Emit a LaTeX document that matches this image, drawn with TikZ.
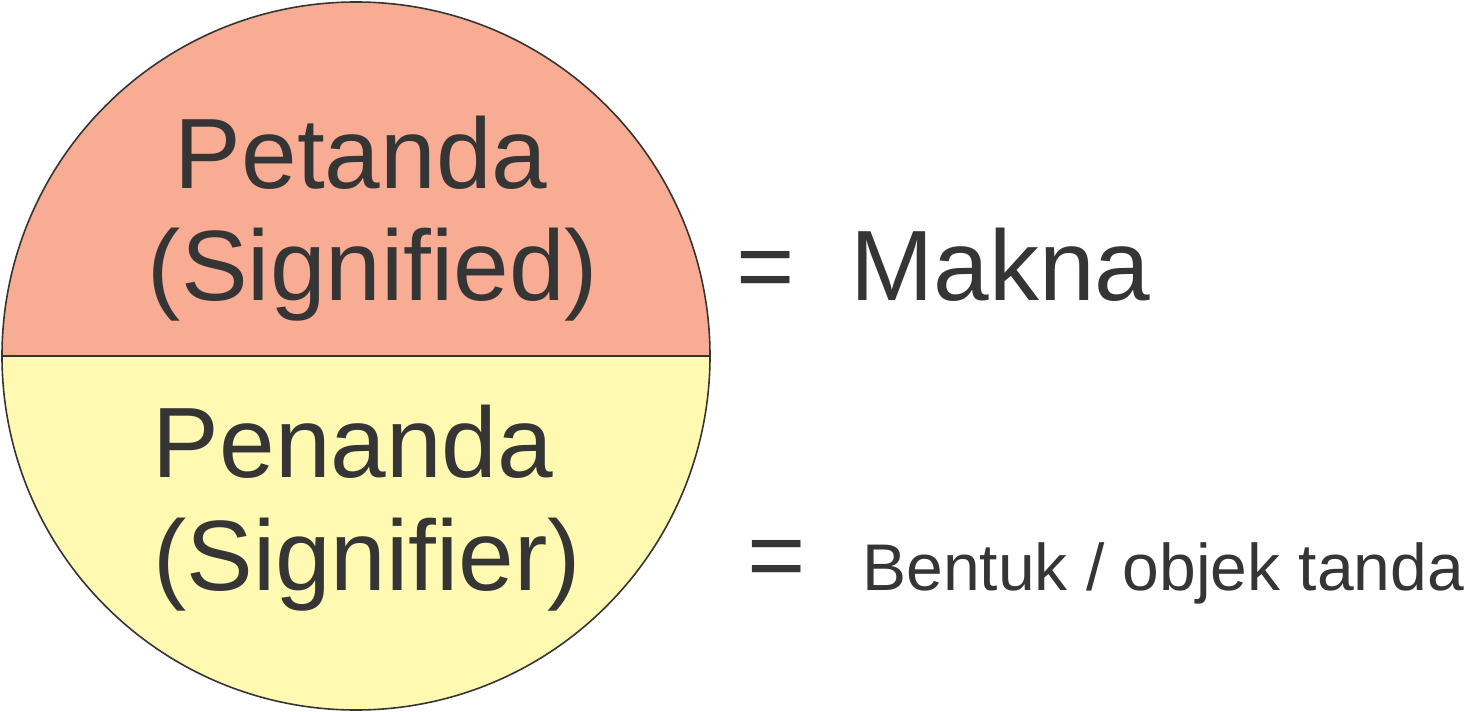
\documentclass[tikz,border=0pt]{standalone}
\usepackage{fontspec}
\setmainfont{Liberation Sans}
\definecolor{signifiedfill}{HTML}{F9AC94}
\definecolor{signifierfill}{HTML}{FFF9B2}
\definecolor{inkgray}{HTML}{353535}

\begin{document}
\begin{tikzpicture}[x=0.5pt, y=-0.5pt,
		bigtext/.style={text=inkgray, inner sep=0pt, font=\fontsize{50}{60}\selectfont},
		smalltext/.style={text=inkgray, inner sep=0pt, font=\fontsize{33}{40}\selectfont}]
		\useasboundingbox (0,0) rectangle (1468,712);
		% the two halves of the sign
		\fill[signifiedfill] (2,356) arc[start angle=180, end angle=0, radius=177pt] -- cycle;
		\fill[signifierfill] (2,356) arc[start angle=180, end angle=360, radius=177pt] -- cycle;
		\draw[inkgray, line width=0.8pt] (356,356) circle[radius=177pt];
		\draw[inkgray, line width=1.1pt] (2,356) -- (710,356);
		% labels inside
		\node[bigtext, anchor=base] (petanda) at (361,188) {Petanda};
		\node[bigtext, anchor=base] (signified) at (373,300) {(Signified)};
		\node[bigtext, anchor=base] (penanda) at (353,477) {Penanda};
		\node[bigtext, anchor=base] (signifier) at (367,590) {(Signifier)};
		% meanings
		\node[bigtext, anchor=base] (eqtop) at (766,300) {=};
		\node[bigtext, anchor=base west] (makna) at (850,300) {Makna};
		\node[bigtext, anchor=base] (eqbottom) at (777,589) {=};
		\node[smalltext, anchor=base west] (bentuk) at (862,590) {Bentuk / objek tanda};
	\end{tikzpicture}
\end{document}
